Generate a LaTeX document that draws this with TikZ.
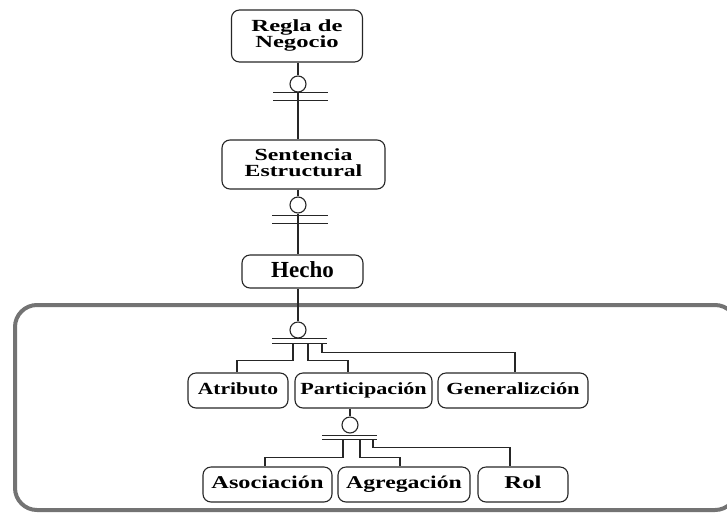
\documentclass[tikz,border=0pt]{standalone}
\usepackage{fontspec}
\setmainfont{Liberation Serif}
\usepackage{graphicx}
\usetikzlibrary{calc}

% bold label, stretched sideways: [size]{stretch}{text}
\newcommand\boxtext[3][17]{\scalebox{#2}[1]{\fontsize{#1}{15}\selectfont\bfseries\begin{tabular}{@{}c@{}}#3\end{tabular}}}

\tikzset{
  entity/.style={draw=black!85, rounded corners=8pt, line width=1.1pt, inner sep=0pt},
  ring/.style={draw=black!85, circle, minimum size=16pt, inner sep=0pt, line width=1.1pt},
  link/.style={draw=black!85, line width=1.3pt},
  frame/.style={draw=black!55, line width=4pt, rounded corners=22pt},
}

\begin{document}
\begin{tikzpicture}[x=1pt,y=-1pt]
\useasboundingbox (0,0) rectangle (727,517);

% grouping frame
\draw[frame] (15,305) rectangle (737,510);

% entities
\node[entity, minimum width=131pt, minimum height=52pt] (regla) at (297,36) {\boxtext{1.45}{Regla de\\Negocio}};
\node[entity, minimum width=163pt, minimum height=49pt] (sent) at (303.5,164.5) {\boxtext{1.4}{Sentencia\\Estructural}};
\node[entity, minimum width=121pt, minimum height=33pt] (hecho) at (302.5,271.5) {\boxtext[23]{1}{Hecho}};

\node[entity, minimum width=100pt, minimum height=35pt] (atrib) at (238,390.5) {\boxtext{1.27}{Atributo}};
\node[entity, minimum width=137pt, minimum height=35pt] (partic) at (363.5,390.5) {\boxtext{1.3}{Participación}};
\node[entity, minimum width=150pt, minimum height=35pt] (gener) at (513,390.5) {\boxtext{1.32}{Generalizción}};

\node[entity, minimum width=129pt, minimum height=35pt] (asoc) at (267.5,484.5) {\boxtext[18]{1.35}{Asociación}};
\node[entity, minimum width=132pt, minimum height=35pt] (agreg) at (404,484.5) {\boxtext[18]{1.32}{Agregación}};
\node[entity, minimum width=90pt, minimum height=35pt] (rol) at (523,484.5) {\boxtext[18]{1.38}{Rol}};

% optional markers
\node[ring] (c1) at (298,84) {};
\node[ring] (c2) at (298,205) {};
\node[ring] (c3) at (298,330) {};
\node[ring] (c4) at (350,425) {};

% Regla de Negocio -> Sentencia Estructural
\draw[link] (regla.south -| c1) -- (c1.north);
\draw[link] (c1.south) -- (sent.north -| c1);
\draw[link] ($(c1.south)+(-25,0)$) -- ($(c1.south)+(30,0)$);
\draw[link] ($(c1.south)+(-25,8)$) -- ($(c1.south)+(30,8)$);

% Sentencia Estructural -> Hecho
\draw[link] (sent.south -| c2) -- (c2.north);
\draw[link] (c2.south) -- (hecho.north -| c2);
\draw[link] ($(c2.south)+(-26,2)$) -- ($(c2.south)+(30,2)$);
\draw[link] ($(c2.south)+(-26,10)$) -- ($(c2.south)+(30,10)$);

% Hecho -> Atributo / Participacion / Generalizcion
\draw[link] (hecho.south -| c3) -- (c3.north);
\coordinate (j3) at ($(c3.south)+(0,5)$);
\draw[link] ($(c3.south)+(-26,0)$) -- ($(c3.south)+(29,0)$);
\draw[link] ($(j3)+(-26,0)$) -- ($(j3)+(29,0)$);
\coordinate (s3a) at ($(j3)+(-5,0)$);
\coordinate (s3b) at ($(j3)+(10,0)$);
\coordinate (s3c) at ($(j3)+(24,0)$);
\coordinate (h3low) at ($(j3)+(0,17)$);
\coordinate (h3high) at ($(j3)+(0,9)$);
\coordinate (p-atrib) at ([xshift=-1pt]atrib.north);
\coordinate (p-partic) at ([xshift=-15.5pt]partic.north);
\coordinate (p-gener) at ([xshift=2pt]gener.north);
\draw[link] (s3a) |- (h3low -| p-atrib) -- (p-atrib);
\draw[link] (s3b) |- (h3low -| p-partic) -- (p-partic);
\draw[link] (s3c) |- (h3high -| p-gener) -- (p-gener);

% Participacion -> Asociacion / Agregacion / Rol
\draw[link] (partic.south -| c4) -- (c4.north);
\coordinate (j4) at ($(c4.south)+(0,6)$);
\draw[link] ($(c4.south)+(-28,2)$) -- ($(c4.south)+(27,2)$);
\draw[link] ($(j4)+(-28,0)$) -- ($(j4)+(27,0)$);
\coordinate (s4a) at ($(j4)+(-7,0)$);
\coordinate (s4b) at ($(j4)+(10,0)$);
\coordinate (s4c) at ($(j4)+(23,0)$);
\coordinate (h4low) at ($(j4)+(0,18)$);
\coordinate (h4high) at ($(j4)+(0,8)$);
\coordinate (p-asoc) at ([xshift=-2.5pt]asoc.north);
\coordinate (p-agreg) at ([xshift=-4pt]agreg.north);
\coordinate (p-rol) at ([xshift=-13pt]rol.north);
\draw[link] (s4a) |- (h4low -| p-asoc) -- (p-asoc);
\draw[link] (s4b) |- (h4low -| p-agreg) -- (p-agreg);
\draw[link] (s4c) |- (h4high -| p-rol) -- (p-rol);
\end{tikzpicture}
\end{document}
